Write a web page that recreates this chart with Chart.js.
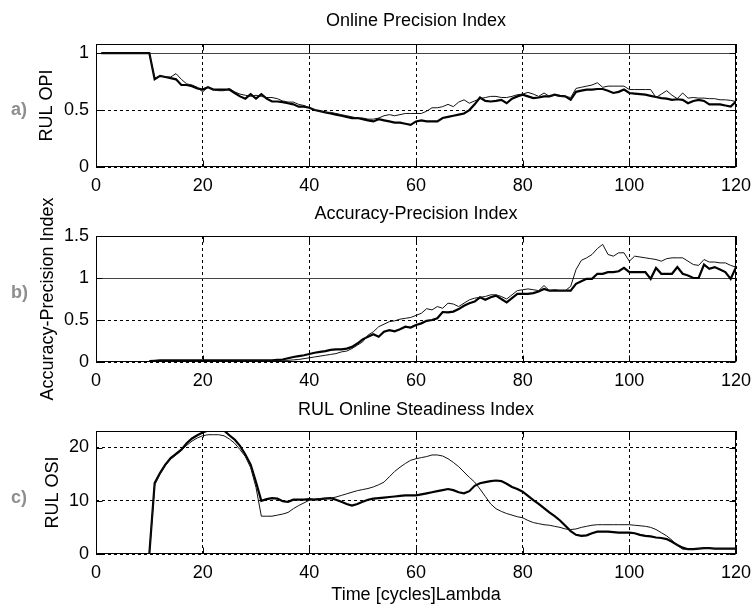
<!DOCTYPE html>
<html>
<head>
<meta charset="utf-8">
<script src="https://cdn.jsdelivr.net/npm/chart.js@4.4.1/dist/chart.umd.min.js"></script>
<style>
  html, body { margin: 0; padding: 0; background: #fff; }
  #wrap { position: relative; width: 751px; height: 604px; overflow: hidden; }
  canvas { position: absolute; left: 0; }
</style>
</head>
<body>
<div id="wrap">
  <canvas id="chartA" width="751" height="195" style="top:0px"></canvas>
  <canvas id="chartC" width="751" height="214" style="top:390px"></canvas>
  <canvas id="chartB" width="751" height="280" style="top:160px"></canvas>
</div>
<script>
"use strict"

// Achse (Zyklen), index des Arrays = Zyklus 0..120
const xTicks = [0, 20, 40, 60, 80, 100, 120]

// a) Online Precision Index
const opiTicks = [0, 0.5, 1]
const opiThin = [null,
  1, 1, 1, 1, 1, 1, 1, 1, 1, 1,
  0.78, 0.80, 0.79, 0.79, 0.82, 0.77, 0.73, 0.72, 0.70, 0.66,
  0.70, 0.68, 0.67, 0.67, 0.69, 0.66, 0.64, 0.63, 0.62, 0.63,
  0.62, 0.61, 0.61, 0.60, 0.58, 0.57, 0.57, 0.55, 0.54, 0.52,
  0.50, 0.49, 0.48, 0.48, 0.47, 0.46, 0.45, 0.44, 0.43, 0.43,
  0.42, 0.42, 0.43, 0.45, 0.46, 0.45, 0.46, 0.47, 0.47, 0.47,
  0.47, 0.49, 0.52, 0.52, 0.53, 0.55, 0.53, 0.57, 0.59, 0.56,
  0.58, 0.60, 0.61, 0.62, 0.62, 0.61, 0.61, 0.62, 0.635, 0.64,
  0.655, 0.64, 0.62, 0.65, 0.62, 0.63, 0.62, 0.62, 0.61, 0.69,
  0.70, 0.71, 0.72, 0.74, 0.70, 0.71, 0.71, 0.71, 0.71, 0.68,
  0.68, 0.68, 0.68, 0.68, 0.61, 0.64, 0.67, 0.63, 0.60, 0.65,
  0.605, 0.61, 0.605, 0.605, 0.60, 0.60, 0.59, 0.59, 0.585, 0.575]
const opiThick = [null,
  1, 1, 1, 1, 1, 1, 1, 1, 1, 1,
  0.77, 0.80, 0.79, 0.78, 0.77, 0.72, 0.72, 0.71, 0.69, 0.68,
  0.70, 0.68, 0.68, 0.68, 0.68, 0.65, 0.62, 0.60, 0.64, 0.60,
  0.64, 0.60, 0.575, 0.575, 0.57, 0.56, 0.55, 0.53, 0.53, 0.52,
  0.50, 0.49, 0.48, 0.47, 0.46, 0.45, 0.44, 0.43, 0.43, 0.42,
  0.41, 0.40, 0.42, 0.41, 0.40, 0.39, 0.39, 0.38, 0.37, 0.40,
  0.41, 0.40, 0.40, 0.40, 0.43, 0.44, 0.45, 0.46, 0.47, 0.50,
  0.55, 0.61, 0.58, 0.575, 0.58, 0.59, 0.56, 0.60, 0.62, 0.635,
  0.62, 0.605, 0.61, 0.62, 0.62, 0.635, 0.625, 0.62, 0.59, 0.66,
  0.67, 0.68, 0.68, 0.685, 0.685, 0.67, 0.65, 0.66, 0.68, 0.65,
  0.645, 0.64, 0.635, 0.625, 0.615, 0.605, 0.60, 0.59, 0.595, 0.59,
  0.56, 0.58, 0.59, 0.58, 0.55, 0.55, 0.55, 0.54, 0.53, 0.575]

// b) Accuracy-Precision Index
const apiTicks = [0, 0.5, 1, 1.5]
const apiThin = [null, null, null, null, null, null, null, null, null, null,
  0.01,
  0.01, 0.01, 0.01, 0.01, 0.01, 0.01, 0.01, 0.01, 0.01, 0.01,
  0.01, 0.01, 0.01, 0.01, 0.01, 0.015, 0.015, 0.015, 0.015, 0.015,
  0.015, 0.015, 0.015, 0.015, 0.02, 0.02, 0.025, 0.03, 0.04, 0.05,
  0.06, 0.07, 0.08, 0.09, 0.10, 0.12, 0.13, 0.16, 0.20, 0.24,
  0.32, 0.36, 0.42, 0.45, 0.48, 0.49, 0.51, 0.52, 0.53, 0.555,
  0.58, 0.635, 0.62, 0.66, 0.64, 0.70, 0.69, 0.66, 0.70, 0.74,
  0.76, 0.77, 0.78, 0.80, 0.80, 0.78, 0.75, 0.80, 0.85, 0.86,
  0.87, 0.86, 0.85, 0.91, 0.85, 0.86, 0.85, 0.85, 0.90, 1.10,
  1.21, 1.24, 1.28, 1.35, 1.40, 1.28, 1.26, 1.30, 1.30, 1.20,
  1.26, 1.25, 1.24, 1.23, 1.22, 1.20, 1.23, 1.24, 1.24, 1.24,
  1.20, 1.16, 1.15, 1.22, 1.19, 1.19, 1.18, 1.18, 1.15, 1.13]
const apiThick = [null, null, null, null, null, null, null, null, null, null,
  0.01,
  0.015, 0.02, 0.02, 0.02, 0.02, 0.02, 0.02, 0.02, 0.02, 0.02,
  0.02, 0.02, 0.02, 0.02, 0.02, 0.02, 0.02, 0.02, 0.02, 0.02,
  0.02, 0.02, 0.02, 0.025, 0.03, 0.045, 0.06, 0.07, 0.08, 0.095,
  0.11, 0.12, 0.13, 0.145, 0.15, 0.15, 0.16, 0.18, 0.22, 0.27,
  0.30, 0.33, 0.30, 0.36, 0.38, 0.365, 0.39, 0.42, 0.41, 0.44,
  0.46, 0.49, 0.50, 0.52, 0.595, 0.59, 0.60, 0.63, 0.67, 0.70,
  0.72, 0.77, 0.74, 0.77, 0.79, 0.75, 0.71, 0.76, 0.81, 0.81,
  0.81, 0.82, 0.84, 0.87, 0.85, 0.85, 0.85, 0.85, 0.85, 0.93,
  0.96, 0.99, 0.99, 1.05, 1.05, 1.07, 1.07, 1.08, 1.12, 1.07,
  1.07, 1.07, 1.07, 0.99, 1.12, 1.05, 1.05, 1.05, 1.13, 1.05,
  1.03, 1.00, 1.00, 1.16, 1.11, 1.13, 1.10, 1.07, 0.99, 1.13]

// c) RUL Online Steadiness Index
const osiTicks = [0, 10, 20]
const osiThin = [null, null, null, null, null, null, null, null, null, null,
  0,
  13.0, 15.0, 16.6, 17.8, 18.6, 19.4, 20.4, 21.2, 21.8, 22.2,
  22.4, 22.4, 22.4, 22.2, 21.6, 20.8, 19.6, 18.3, 16.2, 12.5,
  7.1, 7.1, 7.1, 7.3, 7.5, 7.8, 8.5, 9.1, 9.6, 10.1,
  10.3, 10.4, 10.5, 10.5, 10.7, 11.0, 11.3, 11.6, 11.9, 12.1,
  12.3, 12.6, 13.0, 13.5, 14.5, 15.5, 16.3, 17.0, 17.6, 17.9,
  18.1, 18.3, 18.6, 18.6, 18.4, 17.9, 17.2, 16.4, 15.4, 14.4,
  13.5, 12.2, 10.8, 9.4, 8.5, 8.0, 7.6, 7.3, 7.0, 6.8,
  6.3, 5.9, 5.7, 5.5, 5.4, 5.2, 5.0, 4.7, 4.6, 4.7,
  5.0, 5.2, 5.4, 5.5, 5.5, 5.5, 5.5, 5.5, 5.5, 5.5,
  5.4, 5.3, 5.2, 5.0, 4.6, 4.0, 3.4, 2.6, 1.6, 0.9,
  0.9, 0.9, 1.0, 1.1, 1.1, 1.0, 1.0, 1.0, 1.0, 1.0]
const osiThick = [null, null, null, null, null, null, null, null, null, null,
  0,
  13.3, 15.2, 16.8, 18.0, 18.8, 19.6, 20.8, 21.7, 22.3, 22.8,
  23.2, 23.5, 23.6, 23.2, 22.3, 21.5, 20.3, 18.7, 16.8, 13.5,
  10.0, 10.3, 10.5, 10.4, 9.9, 9.8, 10.2, 10.2, 10.2, 10.3,
  10.2, 10.3, 10.4, 10.5, 10.2, 9.8, 9.4, 9.1, 9.4, 9.8,
  10.2, 10.4, 10.5, 10.6, 10.7, 10.8, 10.9, 11.0, 11.0, 11.0,
  11.2, 11.4, 11.6, 11.8, 12.0, 12.2, 12.0, 11.6, 11.4, 11.8,
  12.8, 13.3, 13.5, 13.7, 13.8, 13.7, 13.2, 12.6, 12.2, 11.7,
  10.9, 10.1, 9.4, 8.6, 7.8, 7.1, 6.3, 5.3, 4.3, 3.6,
  3.4, 3.5, 3.9, 4.2, 4.2, 4.2, 4.1, 4.0, 4.0, 4.0,
  3.9, 3.6, 3.4, 3.3, 3.1, 3.0, 2.8, 2.3, 1.7, 1.2,
  0.9, 0.9, 1.0, 1.1, 1.1, 1.0, 1.0, 1.0, 1.0, 1.0]

const FONT = "'Liberation Sans', Arial, sans-serif"
const FSIZE = 18
Chart.defaults.font.family = FONT
Chart.defaults.font.size = FSIZE
Chart.defaults.color = '#000'

// Zyklus = Index im Array
function toPoints(arr) {
  return arr.map((v, i) => ({ x: i, y: v }))
}

// Rahmen, Ticks innen, Titel und Buchstabe a) b) c)
const frame = {
  id: 'frame',
  beforeDatasetsDraw(chart, args, opts) {
    if (opts.refLine == null) return
    const { ctx, chartArea: a, scales } = chart
    const y = Math.round(scales.y.getPixelForValue(opts.refLine)) + 0.5
    ctx.save()
    ctx.strokeStyle = '#444'
    ctx.lineWidth = 1
    ctx.beginPath()
    ctx.moveTo(a.left, y)
    ctx.lineTo(a.right, y)
    ctx.stroke()
    ctx.restore()
  },
  afterDraw(chart, args, opts) {
    const { ctx, chartArea: a, scales } = chart
    const L = Math.round(a.left) + 0.5, R = Math.round(a.right) - 0.5
    const T = Math.round(a.top) + 0.5, B = Math.round(a.bottom) - 0.5
    ctx.save()
    ctx.strokeStyle = '#000'
    ctx.lineWidth = 1
    ctx.beginPath()
    xTicks.forEach(v => {
      const x = Math.round(scales.x.getPixelForValue(v)) + 0.5
      ctx.moveTo(x, T); ctx.lineTo(x, T + 6)
      ctx.moveTo(x, B); ctx.lineTo(x, B - 6)
    })
    opts.yTicks.forEach(v => {
      const y = Math.round(scales.y.getPixelForValue(v)) + 0.5
      ctx.moveTo(L, y); ctx.lineTo(L + 6, y)
      ctx.moveTo(R, y); ctx.lineTo(R - 6, y)
    })
    ctx.stroke()
    ctx.strokeRect(L, T, R - L, B - T)
    // Titel
    ctx.fillStyle = '#000'
    ctx.font = FSIZE + 'px ' + FONT
    ctx.textAlign = 'center'
    ctx.textBaseline = 'middle'
    ctx.fillText(opts.title, (a.left + a.right) / 2, opts.titleY)
    // Buchstabe
    ctx.fillStyle = '#8e8e8e'
    ctx.font = 'bold 18px Arial, sans-serif'
    ctx.textAlign = 'left'
    ctx.fillText(opts.letter, 11, opts.letterY)
    ctx.restore()
  }
}

function makePanel(id, thin, thick, yMax, yTicks, yTitle, yTitleX, panel) {
  const config = {
    type: 'line',
    data: {
      datasets: [
        { data: toPoints(thin), borderColor: '#111', borderWidth: 1 },
        { data: toPoints(thick), borderColor: '#000', borderWidth: 2.2 }
      ]
    },
    options: {
      responsive: false,
      animation: false,
      layout: { autoPadding: false, padding: { top: panel.top, right: 15, left: 0, bottom: 0 } },
      elements: { point: { radius: 0 }, line: { tension: 0 } },
      plugins: {
        legend: { display: false },
        tooltip: { enabled: false },
        frame: Object.assign({ yTicks: yTicks }, panel)
      },
      scales: {
        x: {
          type: 'linear', min: 0, max: 120,
          afterBuildTicks: s => { s.ticks = xTicks.map(v => ({ value: v })) },
          afterFit: s => { s.height = panel.xHeight; s.paddingLeft = 0; s.paddingRight = 0 },
          grid: { color: '#000', lineWidth: 1, drawTicks: false },
          border: { display: false, dash: [3, 3] },
          ticks: { padding: 8, maxRotation: 0, autoSkip: false, callback: v => String(v) },
          title: {
            display: !!panel.xTitle, text: panel.xTitle || '',
            font: { size: FSIZE, lineHeight: 1 }, padding: { top: 0, bottom: 0 }
          }
        },
        y: {
          min: 0, max: yMax,
          afterBuildTicks: s => { s.ticks = yTicks.map(v => ({ value: v })) },
          afterFit: s => { s.width = 96; s.paddingTop = 0; s.paddingBottom = 0 },
          grid: { color: '#000', lineWidth: 1, drawTicks: false },
          border: { display: false, dash: [3, 3] },
          ticks: { padding: 7, callback: v => String(v) },
          title: {
            display: true, text: yTitle,
            font: { size: FSIZE, lineHeight: 1 }, padding: { top: yTitleX - FSIZE / 2, bottom: 0 }
          }
        }
      }
    },
    plugins: [frame]
  }
  return new Chart(document.getElementById(id), config)
}

makePanel('chartA', opiThin, opiThick, 1.08, opiTicks, 'RUL OPI', 47,
  { top: 44, xHeight: 28, title: 'Online Precision Index', titleY: 21, letter: 'a)', letterY: 110, refLine: 1 })
// Canvas b) ist höher, damit der lange Achsentitel nicht abgeschnitten wird
makePanel('chartB', apiThin, apiThick, 1.5, apiTicks, 'Accuracy-Precision Index', 48,
  { top: 76, xHeight: 78, title: 'Accuracy-Precision Index', titleY: 54, letter: 'b)', letterY: 133, refLine: 1 })
makePanel('chartC', osiThin, osiThick, 23.1, osiTicks, 'RUL OSI', 53,
  { top: 41, xHeight: 50, title: 'RUL Online Steadiness Index', titleY: 20, letter: 'c)', letterY: 108, refLine: null,
    xTitle: 'Time [cycles]Lambda' })
</script>
</body>
</html>
